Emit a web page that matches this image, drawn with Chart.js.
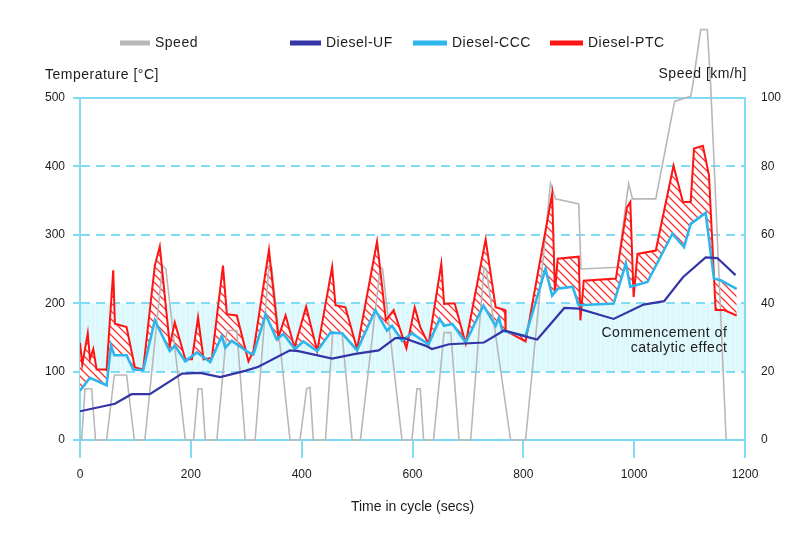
<!DOCTYPE html>
<html>
<head>
<meta charset="utf-8">
<script src="https://cdn.jsdelivr.net/npm/chart.js@4/dist/chart.umd.min.js"></script>
<style>
  html, body { margin: 0; padding: 0; background: #ffffff; }
  canvas { display: block; }
</style>
</head>
<body>
<canvas id="chart" width="807" height="535"></canvas>
<script>
// Vehicle speed over the test cycle (s, km/h)
const speedTime = [0, 3, 9, 21, 28, 48, 62, 84, 98, 117, 149, 155, 190, 205, 213, 220, 226, 247, 265, 283, 298, 316,
  341, 346, 379, 397, 409, 415, 421, 443, 456, 473, 491, 506, 542, 546, 581, 599, 608, 614, 620, 638, 657, 669, 684,
  705, 729, 733, 777, 804, 849, 858, 900, 904, 970, 990, 997, 1039, 1073, 1102, 1106, 1120, 1132, 1138, 1166];
const speedKmh = [0, 0, 15, 15, 0, 0, 19, 19, 0, 0, 51, 50, 0, 0, 15, 15, 0, 0, 32, 32, 0, 0,
  51, 50.5, 0, 0, 15, 15.4, 0, 0, 31.5, 31, 0, 0, 50.6, 50, 0, 0, 15, 15, 0, 0, 31.4, 31.4, 0,
  0, 50.5, 50, 0, 0, 75, 70.5, 69, 50, 50.5, 75, 70.5, 70.5, 99, 100.5, 104, 120, 120, 104, 0];

// Exhaust temperature, Diesel-UF (s, °C)
const ufTime = [0, 63, 93, 126, 184, 217, 253, 298, 322, 379, 394, 455, 497, 539, 569, 584, 623, 635, 666, 729,
  765, 810, 825, 874, 900, 963, 1017, 1054, 1088, 1129, 1150, 1183];
const ufTemp = [42, 53, 67, 67, 97, 98, 92, 101, 107, 131, 130, 119, 126, 131, 149, 149, 138, 133, 140, 142.5,
  160, 150, 147, 193, 192, 177, 198, 203, 238, 267, 266, 241];

// Exhaust temperature, Diesel-CCC (s, °C)
const cccTime = [0, 18, 48, 56, 62, 84, 96, 114, 135, 162, 171, 190, 211, 235, 256, 262, 274, 304, 313, 335, 355,
  367, 388, 403, 428, 452, 473, 500, 533, 554, 563, 581, 599, 629, 649, 657, 672, 696, 728, 750, 756, 762, 804,
  840, 852, 862, 889, 900, 963, 985, 993, 1024, 1069, 1090, 1102, 1129, 1144, 1156, 1185];
const cccTemp = [72, 91, 80, 138, 124, 124, 103, 102, 175, 130, 138, 115, 128, 114, 152, 135, 145, 128, 125, 184, 147,
  155, 133, 144, 130, 157, 156, 131, 190, 160, 167, 145, 156, 140, 177, 167, 169.5, 142.5, 196.6, 167, 179, 160, 152,
  250, 211, 221, 224, 197, 199.5, 258, 224, 231, 301.6, 282, 316, 332, 236, 233.5, 221];

// Exhaust temperature, Diesel-PTC (s, °C)
const ptcTime = [0, 4, 14, 18, 24, 30, 48, 60, 63, 84, 99, 114, 135, 144, 162, 171, 190, 202, 213, 223, 238, 258,
  265, 283, 304, 313, 341, 358, 371, 387, 408, 428, 455, 461, 479, 500, 536, 552, 566, 589, 604, 614, 629, 652,
  657, 676, 696, 732, 750, 767, 768, 804, 852, 857, 862, 900, 903, 909, 967, 987, 993, 999, 1006, 1039, 1071,
  1088, 1102, 1108, 1124, 1135, 1147, 1162, 1185];
const ptcTemp = [142, 110, 156, 118, 133, 103, 103, 248, 170, 165, 106, 103, 255, 283, 138, 172, 118, 118, 179, 118, 120, 255,
  184, 182, 115, 130, 278, 150, 182, 135, 195, 130, 253, 197, 194, 133, 290, 175, 190, 134, 194, 165, 140, 258,
  199, 200, 141, 293, 194, 190, 160, 144, 360, 216, 265, 268, 175, 233, 236, 340, 348, 209, 272, 277, 401,
  348, 348, 426, 430, 387, 190, 190, 182];

// Axis ticks and labels
const timeTicks = { min: 0, max: 1200, step: 200 };
const tempTicks = { min: 0, max: 500, step: 100 };
const speedTicks = { min: 0, max: 100, step: 20 };
const catalyticBand = [100, 200];
const seriesNames = ['Speed', 'Diesel-UF', 'Diesel-CCC', 'Diesel-PTC'];

const toPoints = (xs, ys) => xs.map((x, i) => ({ x: x, y: ys[i] }));
const plainNumber = (v) => String(v);

const GRID = '#80dcf5';
const TEXT = '#1c1c1c';
const FONT = '"Liberation Sans", Arial, sans-serif';
const COLORS = { speed: '#b8b8b8', uf: '#3434a6', ccc: '#2cb6ec', ptc: '#ff1414' };

const canvas = document.getElementById('chart');
const ctx = canvas.getContext('2d');

// red diagonal hatching on white for the PTC / CCC gap
function hatchPattern() {
  const s = 8;
  const c = document.createElement('canvas');
  c.width = s; c.height = s;
  const g = c.getContext('2d');
  g.fillStyle = '#ffffff';
  g.fillRect(0, 0, s, s);
  g.strokeStyle = '#ff3030';
  g.lineWidth = 1.25;
  g.beginPath();
  for (const o of [-s, 0, s]) {
    g.moveTo(o - 1, -1);
    g.lineTo(o + s + 1, s + 1);
  }
  g.stroke();
  return ctx.createPattern(c, 'repeat');
}

// pale cyan band with faint vertical striping
function bandPattern() {
  const c = document.createElement('canvas');
  c.width = 5; c.height = 4;
  const g = c.getContext('2d');
  g.fillStyle = '#dbf8fd';
  g.fillRect(0, 0, 5, 4);
  g.fillStyle = '#ecfcfe';
  g.fillRect(0, 0, 1, 4);
  return ctx.createPattern(c, 'repeat');
}

const bandPlugin = {
  id: 'catalyticBand',
  beforeDraw(chart) {
    const { ctx, chartArea, scales } = chart;
    const yTop = scales.y.getPixelForValue(catalyticBand[1]);
    const yBot = scales.y.getPixelForValue(catalyticBand[0]);
    ctx.save();
    ctx.fillStyle = bandPattern();
    ctx.fillRect(chartArea.left, yTop, chartArea.right - chartArea.left, yBot - yTop);
    ctx.restore();
  }
};

const textPlugin = {
  id: 'chartTexts',
  afterDraw(chart) {
    const { ctx, chartArea, scales } = chart;
    ctx.save();
    ctx.fillStyle = TEXT;
    ctx.textBaseline = 'middle';
    ctx.font = '14px ' + FONT;
    try { ctx.letterSpacing = '0.5px'; } catch (e) {}

    // axis captions
    ctx.textAlign = 'left';
    ctx.fillText('Temperature [°C]', 45, 75);
    ctx.textAlign = 'right';
    ctx.fillText('Speed [km/h]', chartArea.right + 2, 74);

    // band annotation
    const bx = scales.x.getPixelForValue(1168);
    ctx.fillText('Commencement of', bx, 333);
    ctx.fillText('catalytic effect', bx, 348);

    // legend
    const items = [
      { name: seriesNames[0], color: COLORS.speed, x: 120, w: 30 },
      { name: seriesNames[1], color: COLORS.uf, x: 290, w: 31 },
      { name: seriesNames[2], color: COLORS.ccc, x: 413, w: 34 },
      { name: seriesNames[3], color: COLORS.ptc, x: 550, w: 33 }
    ];
    ctx.textAlign = 'left';
    for (const it of items) {
      ctx.fillStyle = it.color;
      ctx.fillRect(it.x, 40.5, it.w, 5);
      ctx.fillStyle = TEXT;
      ctx.fillText(it.name, it.x + it.w + 5, 43);
    }
    ctx.restore();
  }
};

Chart.defaults.font.family = FONT;
Chart.defaults.color = TEXT;

new Chart(ctx, {
  type: 'line',
  data: {
    datasets: [
      {
        label: seriesNames[0],
        data: toPoints(speedTime, speedKmh),
        yAxisID: 'y1',
        borderColor: COLORS.speed,
        borderWidth: 1.6,
        clip: false,
        order: 3
      },
      {
        label: seriesNames[1],
        data: toPoints(ufTime, ufTemp),
        yAxisID: 'y',
        borderColor: COLORS.uf,
        borderWidth: 2.2,
        order: 0
      },
      {
        label: seriesNames[2],
        data: toPoints(cccTime, cccTemp),
        yAxisID: 'y',
        borderColor: COLORS.ccc,
        borderWidth: 2.6,
        order: 1
      },
      {
        label: seriesNames[3],
        data: toPoints(ptcTime, ptcTemp),
        yAxisID: 'y',
        borderColor: COLORS.ptc,
        borderWidth: 2,
        fill: { target: 2 },
        backgroundColor: hatchPattern(),
        order: 2
      }
    ]
  },
  options: {
    responsive: false,
    animation: false,
    elements: {
      point: { radius: 0, hoverRadius: 0 },
      line: { tension: 0 }
    },
    layout: { padding: { top: 98, left: 0, right: 0, bottom: 0 } },
    plugins: {
      legend: { display: false },
      tooltip: { enabled: false },
      filler: { drawTime: 'beforeDatasetsDraw', propagate: false }
    },
    scales: {
      x: {
        type: 'linear',
        position: 'bottom',
        min: timeTicks.min,
        max: timeTicks.max,
        ticks: { stepSize: timeTicks.step, padding: 9, font: { size: 12 }, color: TEXT, maxRotation: 0, callback: plainNumber },
        grid: { drawOnChartArea: false, drawTicks: true, tickLength: 18, color: GRID, lineWidth: 2 },
        border: { display: true, color: GRID, width: 2 },
        title: { display: true, text: 'Time in cycle (secs)', font: { size: 14 }, color: TEXT, padding: { top: 0, bottom: 19 } },
        afterFit(scale) { scale.height = 95; }
      },
      y: {
        type: 'linear',
        position: 'left',
        min: tempTicks.min,
        max: tempTicks.max,
        ticks: { stepSize: tempTicks.step, padding: 8, font: { size: 12 }, color: TEXT, callback: plainNumber },
        grid: { color: GRID, lineWidth: 2, drawTicks: true, tickLength: 7, tickColor: GRID, tickBorderDash: [] },
        border: {
          display: true, color: GRID, width: 2,
          dash: (c) => (c.tick && c.tick.value !== tempTicks.min && c.tick.value !== tempTicks.max) ? [9, 6] : []
        },
        afterFit(scale) { scale.width = 80; }
      },
      y1: {
        type: 'linear',
        position: 'right',
        min: speedTicks.min,
        max: speedTicks.max,
        ticks: { stepSize: speedTicks.step, padding: 16, font: { size: 12 }, color: TEXT, callback: plainNumber },
        grid: { display: true, drawOnChartArea: false, drawTicks: false },
        border: { display: true, color: GRID, width: 2 },
        afterFit(scale) { scale.width = 62; }
      }
    }
  },
  plugins: [bandPlugin, textPlugin]
});
</script>
</body>
</html>
